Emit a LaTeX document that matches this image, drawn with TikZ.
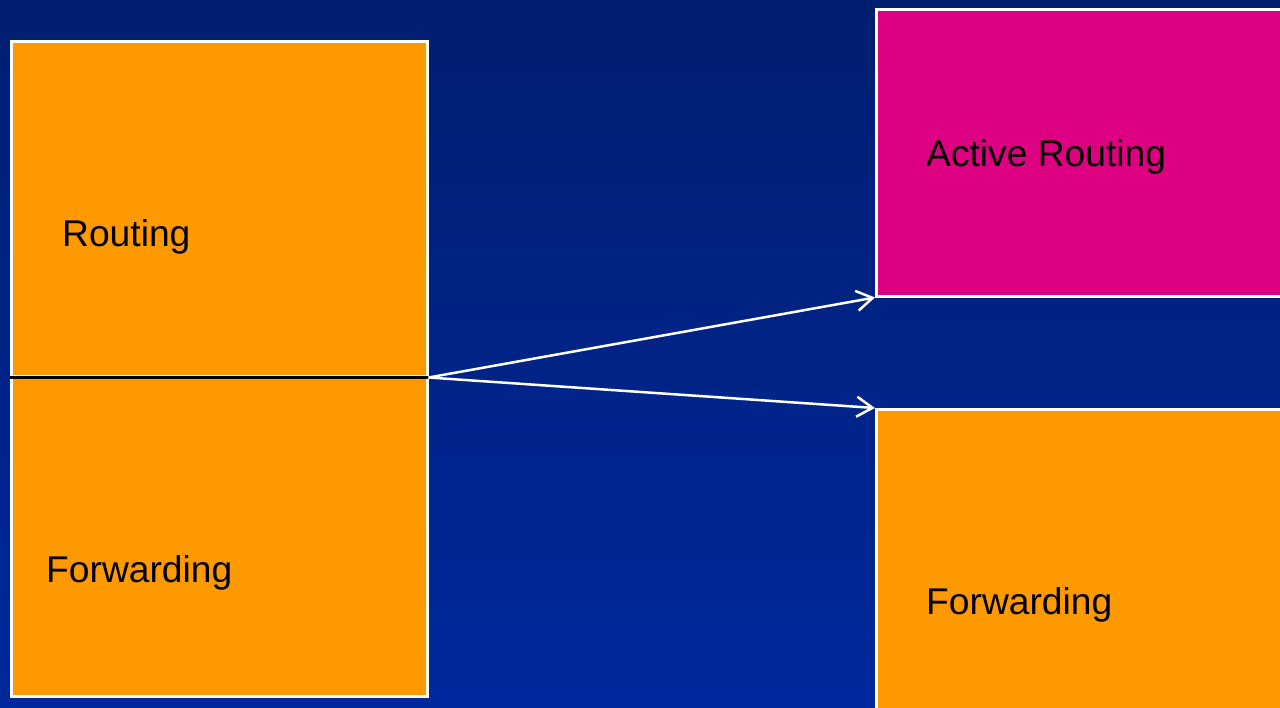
\documentclass[tikz,border=0pt]{standalone}
\usepackage{fontspec}
\setmainfont{Liberation Sans}
\usepackage{xcolor}
\usetikzlibrary{positioning,arrows.meta}
\definecolor{bgtop}{HTML}{001E70}
\definecolor{bgbottom}{HTML}{00289C}
\definecolor{boxorange}{HTML}{FF9900}
\definecolor{boxpink}{HTML}{DD0080}
\tikzset{
  basic/.style  = {draw=white, line width=2.5pt, rectangle, inner sep=0pt,
                   anchor=north west},
  plane/.style  = {basic, fill=boxorange},
  active/.style = {basic, fill=boxpink},
  lbl/.style    = {inner sep=0pt, anchor=west, font=\fontsize{37.2}{40}\selectfont},
  post/.style   = {-{Straight Barb[length=16pt,width=20pt]}, draw=white,
                   line width=2.5pt}
}
\begin{document}
\begin{tikzpicture}[x=1pt,y=-1pt]
  \shade[top color=bgtop, bottom color=bgbottom] (0,0) rectangle (1280,707);
  \useasboundingbox (0,0) rectangle (1280,707);
  % left: router with both planes
  \node[plane, minimum width=416pt, minimum height=335pt] (routing) at (10,40) {};
  \node[plane, minimum width=416pt, minimum height=320pt] (fwd) at (10,375) {};
  \draw[black, line width=3pt] (routing.south west) -- (routing.south east);
  \node[lbl] (routingtxt) at (62,237) {Routing};
  \node[lbl] (fwdtxt) at (46,573) {Forwarding};
  % right: split planes
  \node[active, minimum width=420pt, minimum height=287pt] (act) at (875,8) {};
  \node[plane, minimum width=420pt, minimum height=320pt] (fwdr) at (875,408) {};
  \node[lbl] (acttxt) at (926,157) {Active Routing};
  \node[lbl] (fwdrtxt) at (926,605) {Forwarding};
  % arrows
  \draw[post] (routing.south east) -- (act.south west);
  \draw[post] (routing.south east) -- (fwdr.north west);
\end{tikzpicture}
\end{document}
